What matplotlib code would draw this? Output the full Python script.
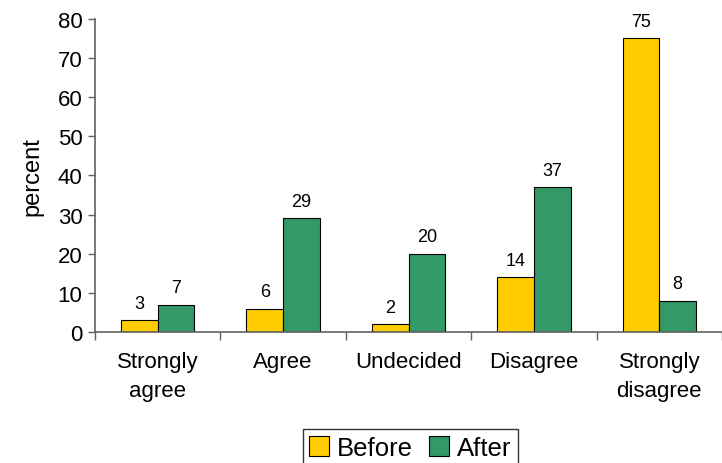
import matplotlib.pyplot as plt
import numpy as np

categories = ["Strongly\nagree", "Agree", "Undecided", "Disagree", "Strongly\ndisagree"]
before = [3, 6, 2, 14, 75]
after = [7, 29, 20, 37, 8]

plt.rcParams["font.family"] = ["Liberation Sans", "DejaVu Sans"]

fig = plt.figure(figsize=(7.22, 4.64), dpi=100)
ax = fig.add_axes([0.1316, 0.2823, 0.8684, 0.675])

x = np.arange(len(categories))
w = 0.293
b1 = ax.bar(x - w / 2, before, w, color="#FFCC00", edgecolor="black", linewidth=0.8, label="Before")
b2 = ax.bar(x + w / 2, after, w, color="#339966", edgecolor="black", linewidth=0.8, label="After")

for rects, vals in ((b1, before), (b2, after)):
    for r, v in zip(rects, vals):
        ax.text(r.get_x() + r.get_width() / 2, v + 2.2, str(v), ha="center", va="bottom", fontsize=13)

ax.set_xlim(-0.5, len(categories) - 0.5)
ax.set_ylim(0, 80)
ax.set_yticks(range(0, 81, 10))
ax.tick_params(axis="y", labelsize=16, length=5, width=1, color="#606060", pad=4)
ax.set_xticks(np.arange(-0.5, len(categories), 1.0))
ax.set_xticklabels([])
ax.set_xticks(x, minor=True)
ax.set_xticklabels(categories, minor=True, fontsize=16, linespacing=1.45)
ax.tick_params(axis="x", which="major", length=6, width=1, color="#606060")
ax.tick_params(axis="x", which="minor", length=0, pad=14)
ax.set_ylabel("percent", fontsize=17, labelpad=10)

for s in ("top", "right"):
    ax.spines[s].set_visible(False)
for s in ("left", "bottom"):
    ax.spines[s].set_color("#606060")
    ax.spines[s].set_linewidth(1.2)

leg = fig.legend(loc="upper center", bbox_to_anchor=(0.568, 0.1), ncol=2, fontsize=18.5,
                 frameon=True, fancybox=False, edgecolor="black", handlelength=0.8,
                 handleheight=0.8, handletextpad=0.3, columnspacing=0.6, borderpad=0.25)
leg.get_frame().set_linewidth(1.0)

fig.savefig("out.png", dpi=100)
